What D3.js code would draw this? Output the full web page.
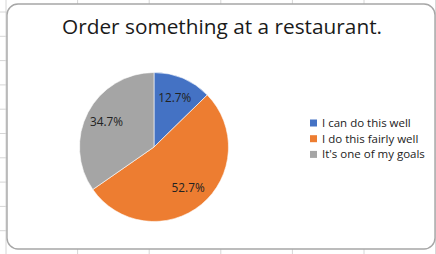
<!DOCTYPE html>
<html>
<head>
<meta charset="utf-8">
<script src="https://cdn.jsdelivr.net/npm/d3@7"></script>
<style>
  html, body { margin: 0; padding: 0; background: #fff; }
  svg { display: block; font-family: "Open Sans", "Liberation Sans", sans-serif; }
</style>
</head>
<body>
<div class="container"></div>
<script>
// chart values
const title = "Order something at a restaurant.";
const categories = ["I can do this well", "I do this fairly well", "It's one of my goals"];
const values = [12.7, 52.7, 34.7];
const colors = ["#4472C4", "#ED7D31", "#A5A5A5"];

const width = 436;
const height = 254;

const svg = d3
  .select(".container")
  .append("svg")
  .attr("width", width)
  .attr("height", height);

// spreadsheet grid behind the chart box
const colLines = d3.range(6, width, 71.6);
const rowLines = d3.range(12, height, 24.3);
const grid = svg.append("g").attr("stroke", "#d6d6d6").attr("stroke-width", 1);
grid
  .selectAll("line.col")
  .data(colLines)
  .join("line")
  .attr("x1", (d) => d)
  .attr("x2", (d) => d)
  .attr("y1", 0)
  .attr("y2", height);
grid
  .selectAll("line.row")
  .data(rowLines)
  .join("line")
  .attr("x1", 0)
  .attr("x2", width)
  .attr("y1", (d) => d)
  .attr("y2", (d) => d);

// chart box
svg
  .append("rect")
  .attr("x", 7)
  .attr("y", 4)
  .attr("width", 428)
  .attr("height", 245)
  .attr("rx", 11)
  .attr("fill", "#fff")
  .attr("stroke", "#a6a6a6")
  .attr("stroke-width", 1.4);

svg
  .append("text")
  .attr("x", 222)
  .attr("y", 34)
  .attr("text-anchor", "middle")
  .attr("font-size", 20.8)
  .attr("fill", "#1a1a1a")
  .text(title);

// pie
const cx = 154;
const cy = 147;
const radius = 74.5;

const data = categories.map((c, i) => ({ name: c, value: values[i] }));
const color = d3.scaleOrdinal(categories, colors);

const pie = d3.pie().sort(null).value((d) => d.value);
const arc = d3.arc().innerRadius(0).outerRadius(radius);
const labelArc = d3.arc().innerRadius(radius * 0.72).outerRadius(radius * 0.72);

const g = svg.append("g").attr("transform", `translate(${cx},${cy})`);
const arcs = pie(data);

g.selectAll("path")
  .data(arcs)
  .join("path")
  .attr("d", arc)
  .attr("fill", (d) => color(d.data.name))
  .attr("stroke", "#fff")
  .attr("stroke-width", 0.6);

g.selectAll("text")
  .data(arcs)
  .join("text")
  .attr("transform", (d) => `translate(${labelArc.centroid(d)})`)
  .attr("text-anchor", "middle")
  .attr("dy", "0.35em")
  .attr("font-size", 11.8)
  .attr("fill", "#222")
  .text((d) => d.data.value.toFixed(1) + "%");

// legend
const legend = svg
  .append("g")
  .attr("transform", "translate(310,123)")
  .selectAll("g")
  .data(categories)
  .join("g")
  .attr("transform", (d, i) => `translate(0,${i * 15.7})`);

legend
  .append("rect")
  .attr("x", 0)
  .attr("y", -3.5)
  .attr("width", 7)
  .attr("height", 7)
  .attr("fill", color);

legend
  .append("text")
  .attr("x", 12)
  .attr("dy", "0.35em")
  .attr("font-size", 11.5)
  .attr("fill", "#222")
  .text((d) => d);
</script>
</body>
</html>
